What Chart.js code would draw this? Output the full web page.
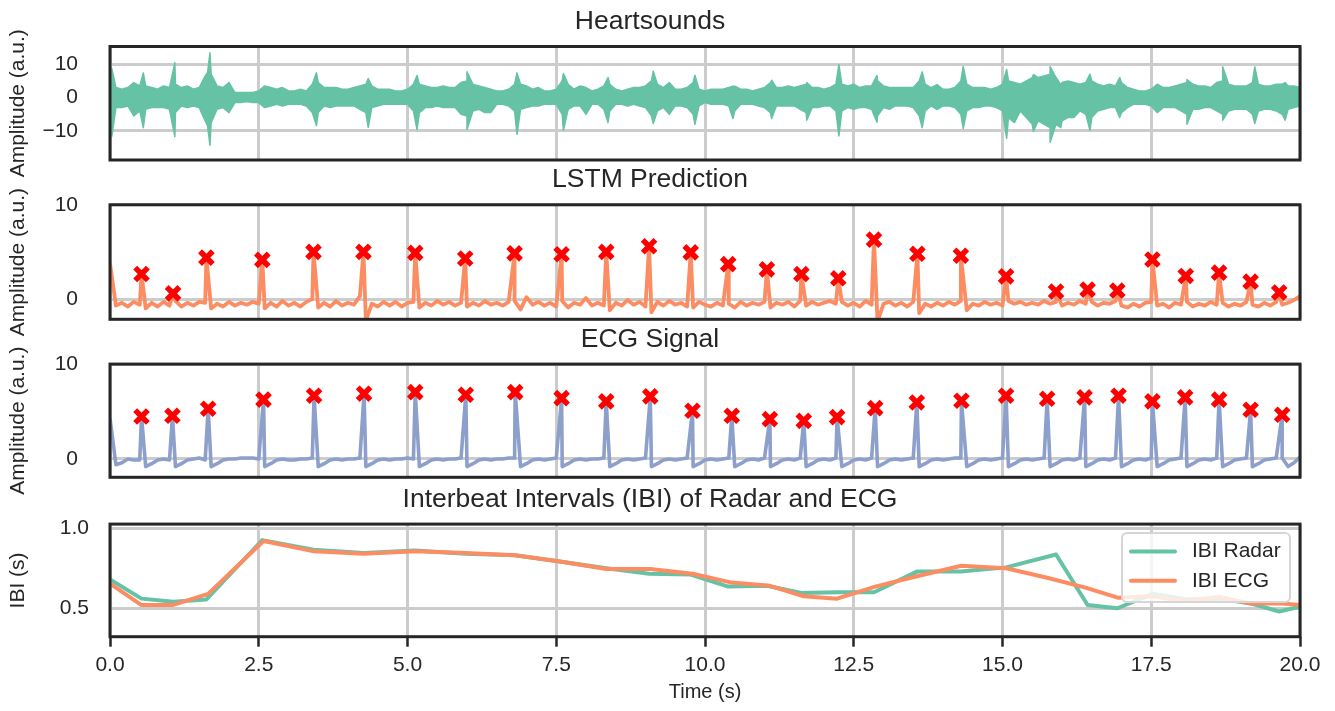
<!DOCTYPE html>
<html>
<head>
<meta charset="utf-8">
<title>Heartsounds, LSTM prediction, ECG and IBI</title>
<script src="https://cdn.jsdelivr.net/npm/chart.js@4.4.1/dist/chart.umd.min.js"></script>
<style>
  html, body { margin: 0; padding: 0; background: #ffffff; }
  #figure { position: relative; width: 1335px; height: 711px; overflow: hidden; }
  #figure canvas { position: absolute; left: 0; top: 0; }
</style>
</head>
<body>
<div id="figure">
  <canvas id="heart" width="1335" height="711"></canvas>
  <canvas id="lstm" width="1335" height="711"></canvas>
  <canvas id="ecg" width="1335" height="711"></canvas>
  <canvas id="ibi" width="1335" height="711"></canvas>
</div>
<script>
'use strict';

const FONT = "'Liberation Sans', Arial, sans-serif";
const INK = '#262626';
const GRID = '#cccccc';
const GREEN = '#66c2a5';
const ORANGE = '#fc8d62';
const BLUE = '#8da0cb';
const MARK = '#ff0000';

const FIG_H = 711;
const Y_LABEL_X = 18.5;
const SAMPLE_STEP = 0.1;   // seconds between baseline samples

// ── Data ──────────────────────────────────────────────────────────────────────

const timeTicks = [0, 2.5, 5, 7.5, 10, 12.5, 15, 17.5, 20];
const heartTicks = [-10, 0, 10];
const ampTicks = [0, 10];
const ibiTicks = [0.5, 1.0];

// heart sound band, upper / lower envelope every 0.1 s
const hsUpper = [
    3, 3, 2.5, 3, 4.5, 3.5, 3.5, 3, 2.5, 3.5,
    3, 4, 3, 3.5, 2.5, 3, 6.5, 7, 3.5, 3,
    4.5, 1.5, 1.5, 1.5, 1.5, 2, 3.5, 3, 2.5, 3,
    2, 2, 2.5, 2, 4, 4.5, 3, 3, 3, 2.5,
    2.5, 3, 3.5, 4, 3.5, 2.5, 2.5, 2.5, 2, 2,
    2.5, 4, 4, 3.5, 3, 3, 3.5, 3, 3, 4.5,
    5, 4, 3.5, 3, 2.5, 2, 2, 2.5, 4, 4,
    3.5, 2.5, 3, 2, 2, 2.5, 5, 4, 2.5, 3.5,
    3, 2, 2.5, 3.5, 4, 2.5, 2, 2.5, 3, 3,
    3.5, 5, 4, 3, 4.5, 2.5, 2.5, 3, 4.5, 2.5,
    2, 2.5, 2.5, 2.5, 3, 3.4, 2.5, 2.5, 2, 2.5,
    3, 4.5, 3, 3, 3.5, 3, 3.5, 4, 3, 3,
    2.5, 3, 4, 4, 3.5, 4, 3, 3.5, 3.5, 5,
    3.5, 3, 3, 3, 3, 3, 5, 4, 3, 3.9,
    2.5, 2.5, 3, 5, 4, 3, 3, 3, 2.5, 3,
    4, 5, 4.5, 4, 5, 6, 6, 6.5, 7, 6,
    4.5, 5, 4.5, 4, 4.5, 5, 4, 3.5, 4, 3.5,
    4.5, 3, 2.5, 2, 2, 2.5, 4, 3, 3, 3.5,
    4, 4.5, 4, 3.5, 3.5, 3, 4.5, 5, 4, 3.5,
    3.5, 3.5, 4.5, 4, 3.5, 3.5, 4, 4, 3.5, 3.5,
    3,
];
const hsLower = [
    -3, -3, -3, -2.5, -5.5, -4, -3.5, -3, -3, -3,
    -3.5, -4.5, -2.5, -3, -2.5, -3, -7, -7.5, -3.5, -3,
    -4.5, -1.5, -1.5, -1.2, -1.5, -1.5, -3, -2.5, -2, -2.5,
    -2, -2, -2, -2.5, -4.5, -4.5, -2.5, -3, -2.5, -2.5,
    -2.5, -2.5, -3.5, -4.5, -3, -2.5, -2, -2, -2, -2,
    -2, -4, -4.5, -3, -3, -2.5, -3, -3, -3, -5,
    -5.5, -4, -3.5, -4.5, -4.5, -2, -2, -2.5, -4, -3.5,
    -3, -2.5, -2.5, -2, -2, -2, -5, -3.5, -2.5, -2.5,
    -5, -2, -2, -3.5, -4, -2, -2, -2.5, -2, -2.5,
    -3, -5.5, -4, -3, -5, -2.5, -2.5, -3, -5, -2.5,
    -1.5, -2, -2, -2, -2.5, -4, -2, -2, -2, -2.5,
    -3, -4.5, -2.5, -2.5, -2.5, -2.5, -3.5, -4.5, -3, -3,
    -2.5, -2.5, -4, -4, -3, -3.5, -3, -3, -3.5, -5.5,
    -3, -3.5, -2.5, -2.5, -2.5, -3, -5.5, -4, -2.5, -3.6,
    -2.5, -2.5, -3, -5, -4, -3, -3, -2.5, -2.5, -3,
    -4, -6, -7.5, -4, -6, -8, -7, -8, -9, -8,
    -7, -6, -6, -4, -5, -6, -4, -3.5, -3, -3,
    -4.5, -3, -2, -2, -2, -2.5, -4.5, -3, -3, -3,
    -4, -5, -3.5, -3.5, -3, -3, -4, -5, -4, -3.5,
    -3.5, -3.5, -5, -4, -3.5, -3.5, -4, -5, -3.5, -3,
    -2.5,
];
const hsSpikeTime = [0.03, 0.56, 1.09, 1.64, 1.68, 3.47, 4.34, 5.16, 6.00, 6.84, 7.62, 8.37, 9.13, 9.83, 10.47, 11.12,
    11.71, 12.25, 12.89, 13.65, 14.34, 15.07, 15.52, 15.80, 15.98, 16.47, 16.97, 18.10, 18.70, 19.24, 19.75];
const hsSpikeUpper = [8.7, 7.4, 10.4, 7.5, 13.4, 7.4, 5.7, 6.6, 7.7, 7.4, 7.2, 6.0, 7.9, 6.7, 3.4, 5.2,
    4.5, 9.9, 6.6, 7.7, 9.3, 8.4, 6.9, 9.3, 3.9, 7.0, 6.0, 5.4, 9.2, 9.2, 4.5];
const hsSpikeLower = [-11.6, -9.0, -11.7, -8.5, -14.3, -8.4, -8.9, -9.6, -9.6, -11.0, -9.8, -7.5, -7.8, -8.0, -6.3, -6.3,
    -6.8, -11.5, -7.4, -9.0, -9.3, -12.2, -10.1, -13.4, -9.0, -9.8, -6.0, -8.0, -6.8, -7.8, -6.8];

// LSTM output: baseline every 0.1 s plus detected peaks
const lstmBase = [
    3.8, -0.7, -0.4, -0.8, -0.3, -0.6, -1.0, -0.4, -0.8, -0.3,
    -0.7, -0.2, -0.8, -0.4, -0.7, -0.3, -0.4, -1.0, -0.5, -0.8,
    -0.3, -0.7, -0.4, -0.6, -0.3, -0.5, -1.0, -0.4, -0.8, -0.2,
    -0.7, -0.4, -0.8, -0.3, 0.0, -0.9, -0.4, -0.8, -0.2, -0.7,
    -0.4, -0.6, 0.3, -2.3, -0.5, -0.8, -0.3, -0.7, -0.3, -0.8,
    -0.4, -0.3, -0.9, -0.4, -0.7, -0.2, -0.6, -0.3, -0.7, -0.4,
    -0.8, -0.4, -0.7, -0.2, -0.6, -0.4, -0.7, -0.3, -0.2, -1.1,
    0.2, -0.6, -0.3, -0.7, -0.4, -0.8, -0.2, -0.9, -0.4, -0.6,
    0.1, -0.7, -0.4, -0.7, -1.2, -0.4, -0.7, -0.1, -0.6, -0.3,
    -0.8, -1.4, -0.3, -0.7, -0.2, -0.6, -0.4, -0.8, -0.9, -0.3,
    -0.6, -0.8, -0.4, -0.7, -0.5, -0.9, -0.3, -0.7, -0.4, -0.6,
    -0.3, -0.9, -0.4, -0.6, -0.3, -0.8, -0.2, -0.7, -0.3, -0.6,
    -0.4, -0.2, -0.5, -0.3, -0.7, -0.4, -0.8, -0.2, -0.6, -2.4,
    -0.5, -0.3, -0.7, -0.4, -0.8, -0.3, -1.5, -0.5, -0.8, -0.4,
    -0.7, -0.3, -0.6, -0.2, -1.2, -0.5, -0.7, -0.3, -0.6, -0.4,
    -0.7, -0.2, -0.5, -0.3, -0.6, -0.4, -0.6, -0.2, -0.5, -0.3,
    -0.7, -0.4, -0.6, -0.2, -0.5, -0.3, -0.7, -0.4, -0.5, -0.2,
    -0.7, -0.9, -0.5, -0.8, -0.4, -0.3, -0.7, -0.5, -0.9, -0.4,
    -0.6, -0.3, -0.8, -0.5, -0.7, -0.3, -0.6, -0.4, -0.8, -0.5,
    -0.7, -0.3, -0.6, -0.8, -0.4, -0.7, -0.3, -0.6, -0.4, -0.1,
    0.3,
];
const lstmPeakTime = [0.53, 1.06, 1.62, 2.56, 3.42, 4.26, 5.13, 5.97, 6.80, 7.59, 8.34, 9.06, 9.76, 10.39, 11.04,
    11.62, 12.24, 12.84, 13.57, 14.30, 15.06, 15.90, 16.43, 16.93, 17.52, 18.08, 18.64, 19.17, 19.65];
const lstmPeakValue = [2.66, 0.6, 4.4, 4.15, 5.0, 5.0, 4.9, 4.3, 4.85, 4.75, 5.0, 5.6, 4.95, 3.7, 3.15,
    2.65, 2.2, 6.3, 4.8, 4.6, 2.4, 0.8, 1.0, 0.9, 4.2, 2.45, 2.8, 1.85, 0.7];

// ECG: baseline every 0.1 s plus R peaks
const ecgBase = [
    4.3, -0.6, -0.4, 0.0, -0.1, -0.1, -0.8, -0.5, -0.1, 0.0,
    -0.1, -0.8, -0.5, -0.1, 0.0, 0.1, -0.1, -0.8, -0.5, -0.1,
    0.0, 0.0, 0.1, 0.1, 0.1, 0.0, -0.8, -0.5, -0.1, 0.0,
    -0.1, -0.1, 0.0, 0.0, 0.1, -0.8, -0.5, -0.1, 0.0, -0.1,
    0.0, 0.0, 0.1, -0.8, -0.5, -0.1, 0.0, -0.1, 0.0, 0.0,
    0.1, 0.0, -0.8, -0.5, -0.1, 0.0, -0.1, 0.0, 0.0, 0.1,
    -0.8, -0.5, -0.1, 0.0, -0.1, 0.0, 0.0, 0.1, 0.1, -0.8,
    -0.5, -0.1, 0.0, -0.1, 0.0, 0.1, -0.8, -0.5, -0.1, 0.0,
    -0.1, 0.0, 0.0, 0.1, -0.8, -0.5, -0.1, 0.0, -0.1, 0.0,
    0.1, -0.8, -0.5, -0.1, 0.0, -0.1, 0.0, 0.1, -0.8, -0.5,
    -0.1, 0.0, -0.1, 0.0, 0.1, -0.8, -0.5, -0.1, 0.0, -0.1,
    0.1, -0.8, -0.5, -0.1, 0.0, -0.1, 0.1, -0.8, -0.5, -0.1,
    0.0, -0.1, 0.1, -0.8, -0.5, -0.1, 0.0, -0.1, 0.1, -0.8,
    -0.5, -0.1, 0.0, -0.1, 0.0, 0.1, -0.8, -0.5, -0.1, 0.0,
    -0.1, 0.0, 0.1, 0.1, -0.8, -0.5, -0.1, 0.0, -0.1, 0.0,
    0.1, -0.8, -0.5, -0.1, 0.0, -0.1, 0.0, 0.1, -0.8, -0.5,
    -0.1, 0.0, -0.1, 0.1, -0.8, -0.5, -0.1, 0.0, -0.1, 0.1,
    -0.8, -0.5, -0.1, 0.0, -0.1, 0.1, -0.8, -0.5, -0.1, 0.0,
    0.1, -0.8, -0.5, -0.1, 0.0, -0.1, 0.1, -0.8, -0.5, -0.1,
    0.0, 0.1, -0.8, -0.5, -0.1, 0.0, 0.1, 0.1, -0.8, -0.4,
    0.2,
];
const ecgPeakTime = [0.53, 1.05, 1.65, 2.58, 3.43, 4.27, 5.13, 5.98, 6.81, 7.59, 8.34, 9.08, 9.79, 10.45, 11.09,
    11.66, 12.22, 12.86, 13.56, 14.31, 15.06, 15.75, 16.38, 16.95, 17.52, 18.07, 18.64, 19.17, 19.70];
const ecgPeakValue = [4.48, 4.55, 5.3, 6.25, 6.67, 6.88, 7.05, 6.77, 7.05, 6.42, 6.07, 6.6, 5.08, 4.55, 4.2,
    4.02, 4.41, 5.36, 5.96, 6.14, 6.67, 6.35, 6.49, 6.67, 6.07, 6.49, 6.25, 5.19, 4.66];

// interbeat intervals (s)
const ibiRadarTime = [0, 0.53, 1.06, 1.62, 2.56, 3.42, 4.26, 5.13, 5.97, 6.80, 7.59, 8.34, 9.06, 9.76, 10.39, 11.04,
    11.62, 12.24, 12.84, 13.57, 14.30, 15.06, 15.90, 16.43, 16.93, 17.52, 18.08, 18.64, 19.17, 19.65, 20];
const ibiRadar = [0.68, 0.56, 0.54, 0.555, 0.925, 0.865, 0.845, 0.86, 0.84, 0.83, 0.79, 0.75, 0.715, 0.71, 0.635, 0.64,
    0.595, 0.60, 0.60, 0.73, 0.73, 0.755, 0.835, 0.52, 0.50, 0.59, 0.555, 0.56, 0.53, 0.48, 0.51];
const ibiEcgTime = [0, 0.53, 1.05, 1.65, 2.58, 3.43, 4.27, 5.13, 5.98, 6.81, 7.59, 8.34, 9.08, 9.79, 10.45, 11.09,
    11.66, 12.22, 12.86, 13.56, 14.31, 15.06, 15.75, 16.38, 16.95, 17.52, 18.07, 18.64, 19.17, 19.70, 20];
const ibiEcg = [0.654, 0.52, 0.52, 0.59, 0.92, 0.855, 0.84, 0.855, 0.845, 0.83, 0.79, 0.745, 0.745, 0.715, 0.66, 0.64,
    0.575, 0.56, 0.635, 0.70, 0.765, 0.75, 0.69, 0.63, 0.565, 0.575, 0.545, 0.57, 0.53, 0.53, 0.52];

// ── Helpers ───────────────────────────────────────────────────────────────────

function withPeaks(base, peakTime, peakValue) {
    const pts = base.map((y, i) => ({ x: i * SAMPLE_STEP, y }));
    peakTime.forEach((x, i) => pts.push({ x, y: peakValue[i] }));
    return pts.sort((a, b) => a.x - b.x);
}

function pairs(xs, ys) {
    return xs.map((x, i) => ({ x, y: ys[i] }));
}

function drawLegend(chart) {
    const { ctx, chartArea: a } = chart;
    const left = a.right - 178, top = a.top + 9, w = 168, h = 69;
    ctx.save();
    ctx.beginPath();
    ctx.roundRect(left, top, w, h, 5);
    ctx.fillStyle = 'rgba(255,255,255,0.8)';
    ctx.fill();
    ctx.strokeStyle = '#d6d6d6';
    ctx.lineWidth = 2;
    ctx.stroke();
    ctx.font = `21px ${FONT}`;
    ctx.textAlign = 'left';
    ctx.textBaseline = 'middle';
    chart.data.datasets.forEach((ds, i) => {
        const y = top + 18.5 + i * 29.2;
        ctx.beginPath();
        ctx.moveTo(left + 9, y);
        ctx.lineTo(left + 53, y);
        ctx.strokeStyle = ds.borderColor;
        ctx.lineWidth = 4;
        ctx.lineCap = 'round';
        ctx.stroke();
        ctx.fillStyle = INK;
        ctx.fillText(ds.label, left + 70, y);
    });
    ctx.restore();
}

// axes box, rotated y label and (optionally) the legend
const framePlugin = {
    id: 'frame',
    afterDraw(chart, args, opts) {
        const { ctx, chartArea: a } = chart;
        ctx.save();
        ctx.strokeStyle = INK;
        ctx.lineWidth = 3;
        ctx.strokeRect(a.left, a.top, a.right - a.left, a.bottom - a.top);
        ctx.translate(Y_LABEL_X, (a.top + a.bottom) / 2);
        ctx.rotate(-Math.PI / 2);
        ctx.font = `21px ${FONT}`;
        ctx.fillStyle = INK;
        ctx.textAlign = 'center';
        ctx.textBaseline = 'middle';
        ctx.fillText(opts.yLabel, 0, 0);
        ctx.restore();
        if (opts.legend) drawLegend(chart);
    },
};

function makePanel(id, p) {
    const last = !!p.showTime;
    return new Chart(document.getElementById(id), {
        type: 'line',
        data: { datasets: p.datasets },
        options: {
            responsive: false,
            animation: false,
            events: [],
            layout: { padding: { left: 0, right: 35, top: p.areaTop - 41, bottom: last ? 0 : FIG_H - p.areaBottom } },
            elements: { point: { radius: 0 }, line: { tension: 0, borderJoinStyle: 'round' } },
            plugins: {
                legend: { display: false },
                tooltip: { enabled: false },
                title: {
                    display: true,
                    text: p.title,
                    color: INK,
                    font: { family: FONT, size: 26.5, weight: 'normal', lineHeight: 1.2 },
                    padding: { top: 0, bottom: 9 },
                },
                frame: { yLabel: p.yLabel, legend: !!p.legend },
            },
            scales: {
                x: {
                    type: 'linear',
                    min: 0,
                    max: 20,
                    afterBuildTicks: axis => { axis.ticks = timeTicks.map(value => ({ value })); },
                    afterFit: axis => { axis.height = last ? FIG_H - p.areaBottom : 0; },
                    grid: { color: GRID, lineWidth: 3, drawTicks: last, tickLength: 10, tickColor: INK, tickWidth: 2.5 },
                    border: { display: false },
                    ticks: {
                        display: last,
                        color: INK,
                        padding: 6,
                        maxRotation: 0,
                        autoSkip: false,
                        font: { family: FONT, size: 21 },
                        callback: v => v.toFixed(1),
                    },
                    title: {
                        display: last,
                        text: 'Time (s)',
                        color: INK,
                        font: { family: FONT, size: 20 },
                        padding: { top: 0, bottom: 7 },
                    },
                },
                y: {
                    type: 'linear',
                    min: p.min,
                    max: p.max,
                    afterBuildTicks: axis => { axis.ticks = p.ticks.map(value => ({ value })); },
                    afterFit: axis => { axis.width = 110; },
                    grid: { color: GRID, lineWidth: 3, drawTicks: false },
                    border: { display: false },
                    ticks: {
                        color: INK,
                        padding: p.tickPad,
                        font: { family: FONT, size: 21 },
                        callback: p.tickFormat,
                    },
                },
            },
        },
        plugins: [framePlugin],
    });
}

// ── Panels ────────────────────────────────────────────────────────────────────

Chart.defaults.font.family = FONT;

const signedLabel = v => String(v).replace('-', '\u2212');

const peakMarker = {
    showLine: false,
    order: 0,
    pointStyle: 'crossRot',
    pointRadius: 9,
    pointBorderWidth: 5.5,
    pointBorderColor: MARK,
    borderColor: MARK,
};

makePanel('heart', {
    title: 'Heartsounds',
    yLabel: 'Amplitude (a.u.)',
    areaTop: 46.7, areaBottom: 160,
    min: -18.7, max: 15.3,
    ticks: heartTicks, tickPad: 32, tickFormat: signedLabel,
    datasets: [
        { data: withPeaks(hsUpper, hsSpikeTime, hsSpikeUpper), borderColor: GREEN, borderWidth: 1.5, pointRadius: 0, fill: false },
        { data: withPeaks(hsLower, hsSpikeTime, hsSpikeLower), borderColor: GREEN, borderWidth: 1.5, pointRadius: 0, fill: '-1', backgroundColor: GREEN },
    ],
});

makePanel('lstm', {
    title: 'LSTM Prediction',
    yLabel: 'Amplitude (a.u.)',
    areaTop: 205, areaBottom: 319.3,
    min: -2.15, max: 10,
    ticks: ampTicks, tickPad: 32, tickFormat: v => String(v),
    datasets: [
        { ...peakMarker, data: pairs(lstmPeakTime, lstmPeakValue) },
        { data: withPeaks(lstmBase, lstmPeakTime, lstmPeakValue), borderColor: ORANGE, borderWidth: 3.8, pointRadius: 0, order: 1 },
    ],
});

makePanel('ecg', {
    title: 'ECG Signal',
    yLabel: 'Amplitude (a.u.)',
    areaTop: 364.3, areaBottom: 477.3,
    min: -1.93, max: 10,
    ticks: ampTicks, tickPad: 32, tickFormat: v => String(v),
    datasets: [
        { ...peakMarker, data: pairs(ecgPeakTime, ecgPeakValue) },
        { data: withPeaks(ecgBase, ecgPeakTime, ecgPeakValue), borderColor: BLUE, borderWidth: 3.6, pointRadius: 0, order: 1 },
    ],
});

makePanel('ibi', {
    title: 'Interbeat Intervals (IBI) of Radar and ECG',
    yLabel: 'IBI (s)',
    areaTop: 524.3, areaBottom: 636.7,
    min: 0.3225, max: 1.025,
    ticks: ibiTicks, tickPad: 21, tickFormat: v => v.toFixed(1),
    showTime: true,
    legend: true,
    datasets: [
        { label: 'IBI Radar', data: pairs(ibiRadarTime, ibiRadar), borderColor: GREEN, borderWidth: 4, pointRadius: 0, order: 1 },
        { label: 'IBI ECG', data: pairs(ibiEcgTime, ibiEcg), borderColor: ORANGE, borderWidth: 4, pointRadius: 0, order: 0 },
    ],
});
</script>
</body>
</html>
